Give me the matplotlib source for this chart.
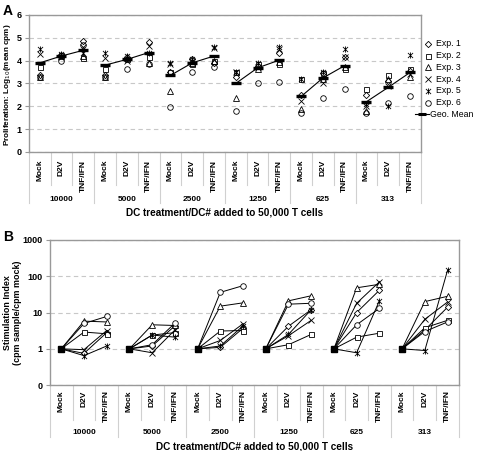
import matplotlib
matplotlib.use("Agg")
import matplotlib.pyplot as plt
from matplotlib.path import Path
from matplotlib.lines import Line2D
import numpy as np

plt.rcParams['font.family'] = ['Liberation Sans', 'DejaVu Sans']

groups = ["10000", "5000", "2500", "1250", "625", "313"]
treatments = ["Mock", "D2V", "TNF/IFN"]
exp_labels = ["Exp. 1", "Exp. 2", "Exp. 3", "Exp. 4", "Exp. 5", "Exp. 6"]

# Panel A: log10(mean cpm), per experiment, group by group (Mock, D2V, TNF/IFN)
log_exp1 = [3.38, 4.25, 4.85, 3.38, 4.15, 4.8, 3.5, 4.05, 3.9, 3.3, 3.75, 4.35, 2.5, 3.45, 4.15, 2.5, 3.1, 3.55]
log_exp2 = [3.7, 4.25, 4.1, 3.65, 4.05, 4.15, 3.5, 3.85, 4.0, 3.5, 3.85, 3.85, 3.2, 3.45, 3.65, 2.75, 3.35, 3.65]
log_exp3 = [3.28, 4.2, 4.2, 3.28, 4.1, 3.9, 2.65, 3.9, 4.0, 2.35, 3.65, 3.95, 1.9, 3.2, 3.7, 1.8, 3.2, 3.3]
log_exp4 = [4.3, 4.15, 4.6, 4.1, 4.0, 4.65, 3.85, 4.0, 4.55, 3.5, 3.7, 4.5, 2.25, 3.0, 4.15, 2.0, 2.9, 3.4]
log_exp5 = [4.5, 4.3, 4.35, 4.35, 4.2, 4.35, 3.9, 4.05, 4.6, 3.5, 3.9, 4.6, 3.2, 3.5, 4.5, 2.1, 2.0, 4.25]
log_exp6 = [3.3, 4.0, 4.7, 3.3, 3.65, 3.85, 1.95, 3.5, 3.7, 1.8, 3.0, 3.05, 1.7, 2.35, 2.75, 1.7, 2.15, 2.45]
geo_mean = [3.9, 4.2, 4.45, 3.8, 4.05, 4.35, 3.35, 3.9, 4.2, 3.0, 3.68, 4.02, 2.43, 3.24, 3.78, 2.2, 2.83, 3.48]

# Panel B: stimulation index (cpm sample / cpm mock)
si_exp1 = [1, 0.75, 2.8, 1, 1.2, 4.3, 1, 1.1, 3.7, 1, 4.2, 12, 1, 10, 41, 1, 3.3, 14]
si_exp2 = [1, 2.9, 2.6, 1, 2.4, 2.8, 1, 3.1, 3.2, 1, 1.3, 2.5, 1, 2.1, 2.7, 1, 3.8, 6.1]
si_exp3 = [1, 5.8, 5.5, 1, 4.6, 4.4, 1, 15, 18.5, 1, 21, 29, 1, 48, 60, 1, 20, 28]
si_exp4 = [1, 0.95, 3.2, 1, 0.78, 3.3, 1, 1.7, 4.9, 1, 2.3, 6.1, 1, 18, 70, 1, 6.5, 19.5]
si_exp5 = [1, 0.65, 1.2, 1, 2.4, 2.1, 1, 1.2, 4.3, 1, 2.5, 12, 1, 0.78, 21, 1, 0.9, 145]
si_exp6 = [1, 5.0, 7.8, 1, 1.3, 5.1, 1, 36, 55, 1, 17, 18, 1, 4.6, 13, 1, 3.0, 5.5]

log_data = [log_exp1, log_exp2, log_exp3, log_exp4, log_exp5, log_exp6]
si_data = [si_exp1, si_exp2, si_exp3, si_exp4, si_exp5, si_exp6]

# Excel-like star marker: an x with a vertical bar through it
star = Path([(-1, -1), (1, 1), (-1, 1), (1, -1), (0, -1.2), (0, 1.2)],
            [Path.MOVETO, Path.LINETO, Path.MOVETO, Path.LINETO, Path.MOVETO, Path.LINETO])
markers = ["D", "s", "^", "x", star, "o"]
msizes = [3.2, 3.6, 3.8, 4.0, 4.4, 4.0]

GRID = "#c8c8c8"
SPINE = "#999999"
SEP = "#d0d0d0"


def style_axes(ax):
    for s in ax.spines.values():
        s.set_color(SPINE)
        s.set_linewidth(1.0)
    ax.tick_params(axis="y", length=3, width=0.8, color=SPINE, labelsize=6.5, pad=2)
    for lab in ax.get_yticklabels():
        lab.set_fontweight("bold")
    ax.set_xticks([])
    ax.yaxis.grid(True, color=GRID, linestyle=(0, (4, 3)), linewidth=0.8)
    ax.set_axisbelow(True)


def category_axis(ax, cat_drop, grp_drop, tick_y, grp_y, label_y):
    trans = ax.get_xaxis_transform()
    n = len(groups) * len(treatments)
    for i in range(n + 1):
        drop = grp_drop if i % 3 == 0 else cat_drop
        ax.plot([i - 0.5, i - 0.5], [0, drop], transform=trans, color=SEP,
                linewidth=0.8, clip_on=False)
    for i in range(n):
        ax.text(i, tick_y, treatments[i % 3], transform=trans, rotation=90,
                ha="center", va="top", fontsize=6, fontweight="bold")
    for g, name in enumerate(groups):
        ax.text(g * 3 + 1, grp_y, name, transform=trans, ha="center", va="center",
                fontsize=6, fontweight="bold")
    ax.text((n - 1) / 2, label_y, "DC treatment/DC# added to 50,000 T cells", transform=trans,
            ha="center", va="center", fontsize=7.2, fontweight="bold")
    ax.set_xlim(-0.5, n - 0.5)


fig = plt.figure(figsize=(4.8, 4.51), dpi=100)
W, H = 480.0, 451.0

# ---- Panel A ----
axA = fig.add_axes([0.060, 0.663, 0.817, 0.304])
x = np.arange(len(geo_mean))
for data, m, ms in zip(log_data, markers, msizes):
    axA.plot(x, data, linestyle="none", marker=m, markersize=ms, markeredgewidth=0.6,
             markerfacecolor="none", markeredgecolor="black")
for g in range(len(groups)):
    sl = slice(g * 3, g * 3 + 3)
    axA.plot(x[sl], geo_mean[sl], color="black", linewidth=0.8)
    axA.plot(x[sl], geo_mean[sl], linestyle="none", marker="_", markersize=7,
             markeredgewidth=2.4, color="black")
axA.set_ylim(0, 6)
axA.set_yticks(range(0, 7))
style_axes(axA)
axA.set_ylabel("Proliferation: Log$_{10}$(mean cpm)", fontsize=5.9, fontweight="bold")
axA.yaxis.set_label_coords(-0.040, 0.49)
category_axis(axA, -0.24, -0.37, -0.055, -0.343, -0.445)

# legend, Excel style, to the right of panel A
for k, (m, ms, lab) in enumerate(zip(markers, msizes, exp_labels)):
    yy = 1 - (44 + 11.7 * k) / H
    fig.add_artist(Line2D([428 / W], [yy], linestyle="none", marker=m, markersize=ms,
                          markeredgewidth=0.6, markerfacecolor="none",
                          markeredgecolor="black"))
    fig.text(436 / W, yy, lab, fontsize=6.3, va="center", ha="left")
yy = 1 - (44 + 11.7 * 6) / H
fig.add_artist(Line2D([415 / W, 429 / W], [yy, yy], color="black", linewidth=0.8))
fig.add_artist(Line2D([422 / W], [yy], marker="_", markersize=6, markeredgewidth=2.2,
                      color="black"))
fig.text(429.5 / W, yy, "Geo. Mean", fontsize=6.3, va="center", ha="left")

# ---- Panel B ----
axB = fig.add_axes([0.104, 0.146, 0.852, 0.322])
for data, m, ms in zip(si_data, markers, msizes):
    for g in range(len(groups)):
        sl = slice(g * 3, g * 3 + 3)
        axB.plot(x[sl], data[sl], color="black", linewidth=0.7, marker=m, markersize=ms,
                 markeredgewidth=0.6, markerfacecolor="white", markeredgecolor="black")
# mock points overlap as a filled square
axB.plot(x[0::3], [si_exp1[i] for i in range(0, 18, 3)], linestyle="none", marker="s",
         markersize=4.5, color="black")
axB.set_yscale("log")
axB.set_ylim(0.1, 1000)
axB.set_yticks([0.1, 1, 10, 100, 1000])
axB.set_yticklabels(["0", "1", "10", "100", "1000"])
axB.minorticks_off()
style_axes(axB)
axB.set_ylabel("Stimulation Index\n(cpm sample/cpm mock)", fontsize=6.4, fontweight="bold",
               linespacing=1.1)
axB.yaxis.set_label_coords(-0.068, 0.5)
category_axis(axB, -0.241, -0.359, -0.035, -0.324, -0.421)

fig.text(0.006, 0.992, "A", fontsize=10, fontweight="bold", va="top")
fig.text(0.006, 0.490, "B", fontsize=10, fontweight="bold", va="top")

fig.savefig("out.png", dpi=100)
